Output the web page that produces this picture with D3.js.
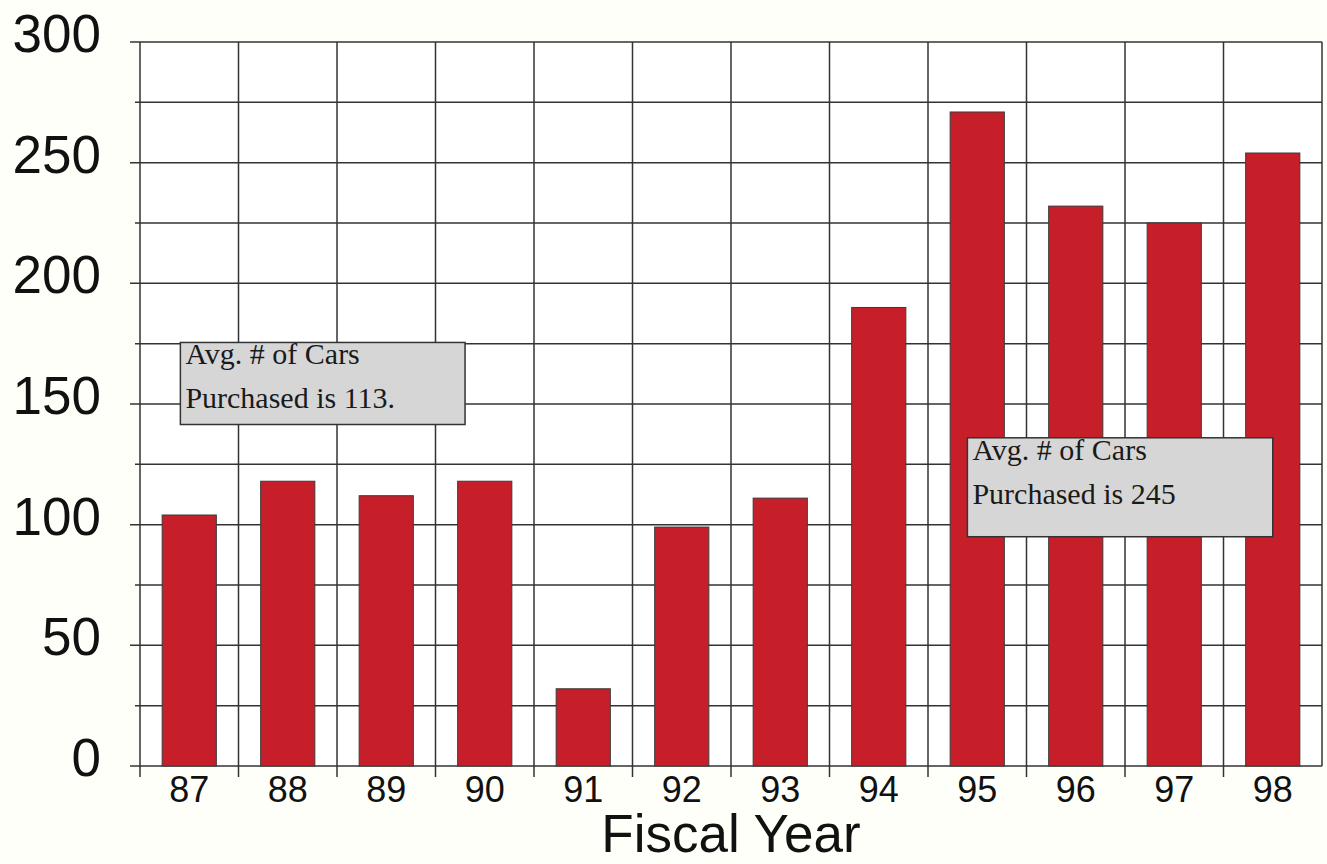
<!DOCTYPE html>
<html lang="en">
<head>
<meta charset="utf-8">
<style>
  body { margin: 0; background: #fffffa; }
  svg { display: block; font-family: 'Liberation Sans', Arial, sans-serif; }
  .grid line { stroke: #333; stroke-width: 1.5px; }
  .bar { fill: #c61f2a; stroke: #3a3a3a; stroke-width: 1px; }
  .note rect { fill: #d6d6d6; stroke: #333; stroke-width: 1.5px; }
  .note text { font-family: 'Liberation Serif', 'Times New Roman', serif; font-size: 30px; fill: #1a1a1a; }
</style>
</head>
<body>
<svg width="1327" height="864"></svg>
<script src="https://d3js.org/d3.v7.min.js"></script>
<script>
// data
const years = ["87", "88", "89", "90", "91", "92", "93", "94", "95", "96", "97", "98"]
const cars = [104, 118, 112, 118, 32, 99, 111, 190, 271, 232, 225, 254]
const yTicks = [0, 50, 100, 150, 200, 250, 300]
const noteText = [
  ["Avg. # of Cars", "Purchased is 113."],
  ["Avg. # of Cars", "Purchased is 245"]
]

const margin = { top: 42, right: 5, bottom: 98, left: 140 }
const width = 1327, height = 864
const svg = d3.select("svg")

svg.append("rect")
  .attr("x", margin.left).attr("y", margin.top)
  .attr("width", width - margin.left - margin.right)
  .attr("height", height - margin.top - margin.bottom)
  .attr("fill", "#fff")

const x = d3.scaleBand().domain(years)
  .range([margin.left, width - margin.right]).padding(0)
const y = d3.scaleLinear().domain([0, 300])
  .range([height - margin.bottom, margin.top])

// horizontal grid every 25, longer ticks at the labelled values
const grid = svg.append("g").attr("class", "grid")
grid.selectAll("line.h")
  .data(d3.range(0, 301, 25))
  .join("line")
  .attr("class", "h")
  .attr("x1", d => margin.left - (d % 50 === 0 ? 10 : 5))
  .attr("x2", width - margin.right)
  .attr("y1", d => y(d)).attr("y2", d => y(d))

// vertical lines between categories
const edges = years.map(d => x(d)).concat([x(years[years.length - 1]) + x.bandwidth()])
grid.selectAll("line.v")
  .data(edges)
  .join("line")
  .attr("class", "v")
  .attr("x1", d => d).attr("x2", d => d)
  .attr("y1", margin.top)
  .attr("y2", (d, i) => y(0) + (i === edges.length - 1 ? 0 : 11))

// bars
const barW = x.bandwidth() * 0.55
svg.append("g").selectAll("rect")
  .data(years)
  .join("rect")
  .attr("class", "bar")
  .attr("x", d => x(d) + (x.bandwidth() - barW) / 2)
  .attr("width", barW)
  .attr("y", (d, i) => y(cars[i]))
  .attr("height", (d, i) => y(0) - y(cars[i]))

// y labels
svg.append("g").selectAll("text")
  .data(yTicks)
  .join("text")
  .attr("x", 101)
  .attr("y", d => y(d) + 10)
  .attr("text-anchor", "end")
  .attr("font-size", 53)
  .attr("fill", "#111")
  .text(d => d)

// x labels
svg.append("g").selectAll("text")
  .data(years)
  .join("text")
  .attr("x", d => x(d) + x.bandwidth() / 2)
  .attr("y", y(0) + 36)
  .attr("text-anchor", "middle")
  .attr("font-size", 36)
  .attr("fill", "#111")
  .text(d => d)

svg.append("text")
  .attr("x", (margin.left + width - margin.right) / 2)
  .attr("y", 852)
  .attr("text-anchor", "middle")
  .attr("font-size", 53)
  .attr("fill", "#111")
  .text("Fiscal Year")

// average callouts, placed over the chart like the pasted text boxes
const boxes = [
  { x0: x("87") + x.bandwidth() * 0.41, x1: x("90") + x.bandwidth() * 0.3, y0: y(175.5), y1: y(141.5) },
  { x0: x("95") + x.bandwidth() * 0.4, x1: x("98") + x.bandwidth() * 0.5, y0: y(136), y1: y(95) }
]
const note = svg.selectAll("g.note")
  .data(noteText)
  .join("g")
  .attr("class", "note")

note.append("rect")
  .attr("x", (d, i) => boxes[i].x0)
  .attr("width", (d, i) => boxes[i].x1 - boxes[i].x0)
  .attr("y", (d, i) => boxes[i].y0)
  .attr("height", (d, i) => boxes[i].y1 - boxes[i].y0)

note.each(function (d, i) {
  const g = d3.select(this)
  d.forEach((t, k) => {
    g.append("text")
      .attr("x", boxes[i].x0 + 5)
      .attr("y", boxes[i].y0 + 22 + k * 44)
      .text(t)
  })
})
</script>
</body>
</html>
